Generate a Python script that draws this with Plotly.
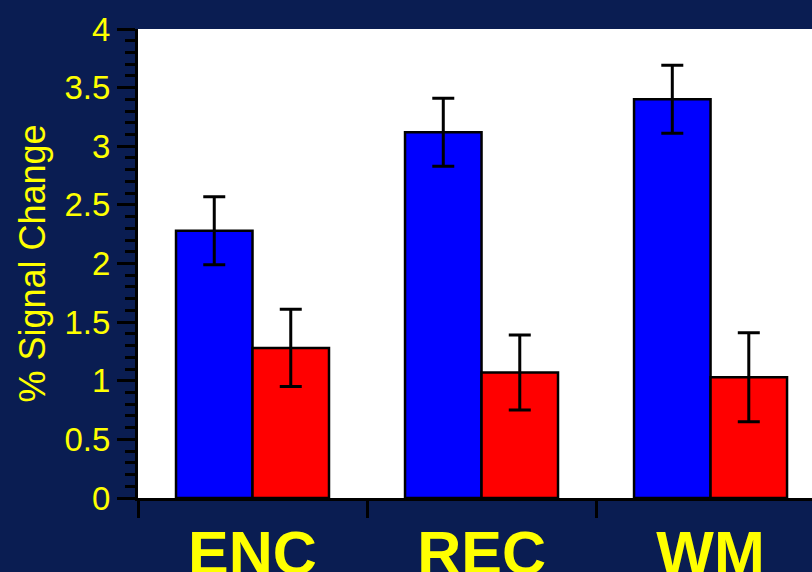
import plotly.graph_objects as go

# Conditions and mean % signal change per group
categories = ["ENC", "REC", "WM"]
blue_values = [2.28, 3.12, 3.40]
blue_errors = [0.29, 0.29, 0.29]
red_values = [1.28, 1.07, 1.03]
red_errors = [0.33, 0.32, 0.38]

NAVY = "#0A1D52"
YELLOW = "#FFFF00"

err_style = dict(type="data", visible=True, color="black", thickness=3, width=11)

fig = go.Figure()
fig.add_trace(go.Bar(
    x=categories, y=blue_values,
    error_y=dict(array=blue_errors, **err_style),
    marker=dict(color="#0000FF", line=dict(color="black", width=2.5)),
    showlegend=False,
))
fig.add_trace(go.Bar(
    x=categories, y=red_values,
    error_y=dict(array=red_errors, **err_style),
    marker=dict(color="#FF0000", line=dict(color="black", width=2.5)),
    showlegend=False,
))

fig.update_layout(
    width=812, height=572,
    margin=dict(l=138, r=0, t=29, b=74, autoexpand=False),
    paper_bgcolor=NAVY,
    plot_bgcolor="white",
    barmode="group",
    bargap=0.332,
    bargroupgap=0,
    font=dict(family="Arial, Liberation Sans, sans-serif", color=YELLOW),
)

fig.update_xaxes(
    type="category",
    range=[-0.5, 2.443],
    automargin=False,
    tickson="boundaries",
    ticks="outside", ticklen=17, tickwidth=3, tickcolor="black",
    showline=True, linecolor="black", linewidth=3,
    showgrid=False, zeroline=False,
    tickfont=dict(size=61, color=YELLOW, family="Arial, Liberation Sans, sans-serif", weight="bold"),
)

fig.update_yaxes(
    range=[0, 4],
    automargin=False,
    tickmode="linear", tick0=0, dtick=0.5,
    ticks="outside", ticklen=18, tickwidth=3, tickcolor="black",
    minor=dict(dtick=0.1, ticks="outside", ticklen=10, tickwidth=3, tickcolor="black", showgrid=False),
    showline=True, linecolor="black", linewidth=3, mirror=True,
    showgrid=False, zeroline=False,
    tickfont=dict(size=33, color=YELLOW),
    title=dict(text="% Signal Change", font=dict(size=36, color=YELLOW), standoff=8),
)

fig.write_html("out.html")
